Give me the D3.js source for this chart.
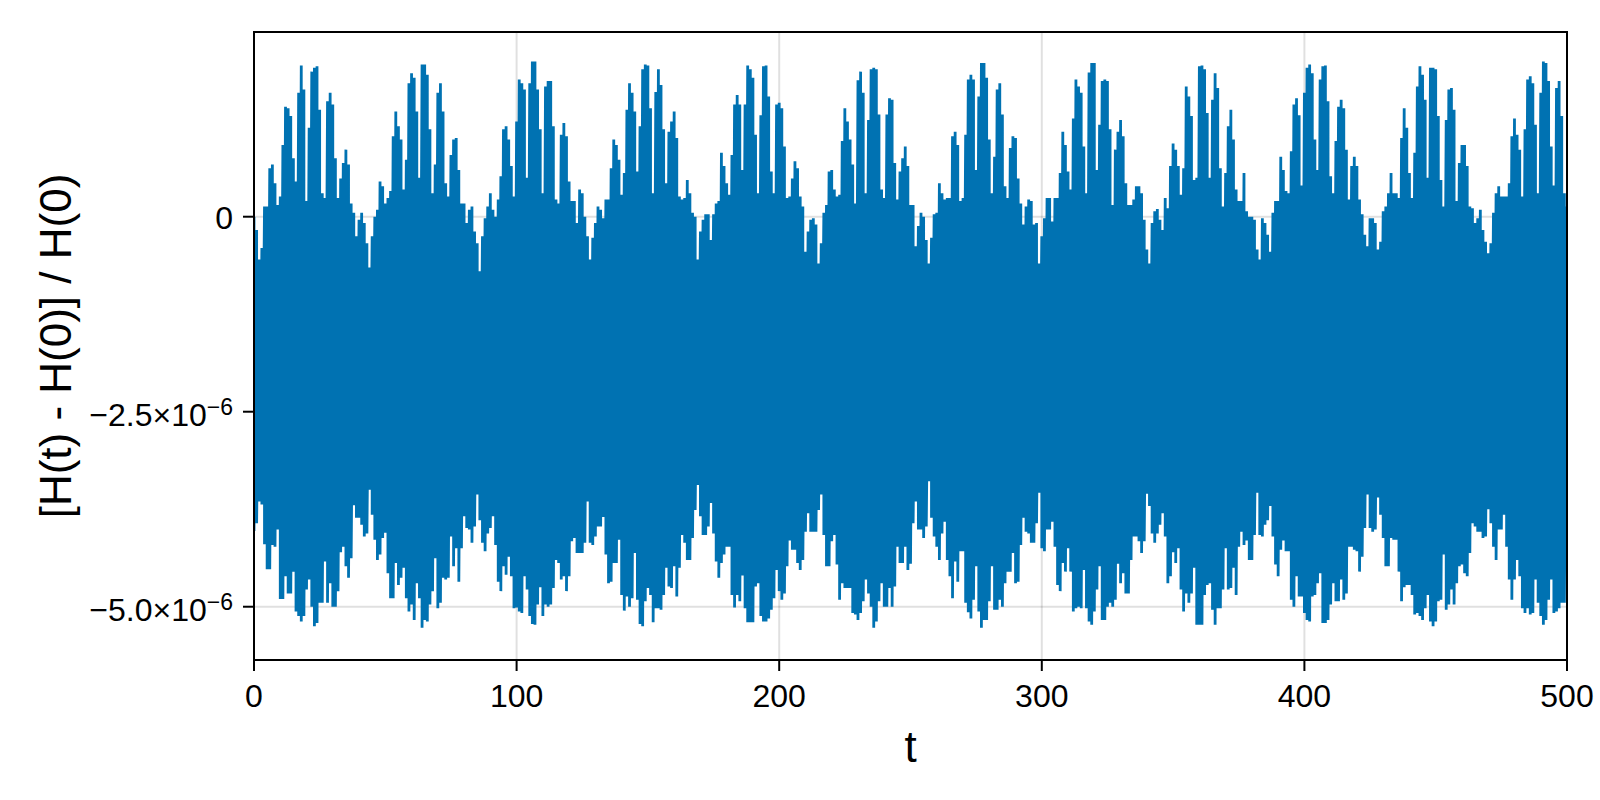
<!DOCTYPE html>
<html>
<head>
<meta charset="utf-8">
<script src="https://cdn.jsdelivr.net/npm/d3@7"></script>
<style>
  html, body { margin: 0; padding: 0; background: #ffffff; }
  svg { display: block; }
  text { font-family: "Liberation Sans", Arial, Helvetica, sans-serif; fill: #000; }
</style>
</head>
<body>
<svg id="chart" width="1600" height="800"></svg>
<script>
// ---------------- DATA (values in units of 1e-6) ----------------
// Sample times t = 0..500, one sample per time unit
const tStart = 0, tEnd = 500, tStep = 1;

// upper envelope of the fast oscillation in each sample interval
const errUpperE6 = [
  0.00,-0.17,-0.55,-0.40,0.13,0.13,0.62,0.67,0.43,0.15,
  0.26,0.92,1.41,1.39,1.29,0.75,0.45,1.59,1.94,1.63,
  0.20,1.14,1.86,1.91,1.93,1.37,0.30,0.24,1.48,1.59,
  1.44,0.75,0.24,0.49,0.69,0.86,0.67,0.17,0.05,-0.25,
  -0.04,0.05,-0.08,-0.34,-0.65,-0.25,0.00,0.09,0.45,0.39,
  0.17,0.24,0.33,1.03,1.35,1.16,0.99,0.35,0.73,1.71,
  1.84,1.78,1.35,0.50,1.95,1.95,1.82,1.12,0.30,0.67,
  1.59,1.71,1.35,0.43,0.26,0.79,0.99,1.01,0.60,0.17,
  0.17,-0.08,0.09,0.13,-0.19,-0.34,-0.70,-0.25,-0.02,0.13,
  0.30,0.09,0.00,0.22,0.52,1.12,1.16,0.99,0.65,0.26,
  1.22,1.76,1.71,1.63,0.50,1.71,1.99,1.99,1.63,1.12,
  0.30,1.67,1.74,1.74,1.16,0.22,0.17,1.05,1.20,1.03,
  0.45,0.20,0.20,-0.08,0.35,0.30,0.00,-0.25,-0.55,-0.27,
  -0.08,0.13,0.09,-0.02,0.22,0.22,0.62,0.99,0.92,0.73,
  0.28,0.56,1.37,1.71,1.59,1.35,0.58,1.16,1.89,1.95,
  1.94,1.39,0.30,1.60,1.89,1.69,1.12,0.43,1.09,1.22,
  1.35,1.01,0.26,0.22,0.24,0.47,0.30,0.05,0.00,-0.55,
  -0.19,-0.04,0.03,0.03,-0.30,0.03,0.17,0.20,0.82,0.65,
  0.43,0.28,0.79,1.44,1.56,1.44,0.60,1.44,1.94,1.89,
  1.78,1.05,0.30,1.30,1.93,1.94,1.54,0.58,0.30,1.44,
  1.46,1.39,0.90,0.24,0.26,0.49,0.71,0.62,0.26,0.13,
  -0.45,-0.19,-0.04,-0.02,-0.10,-0.60,-0.34,0.05,0.15,0.58,
  0.60,0.35,0.26,0.28,0.97,1.39,1.22,0.99,0.67,0.17,
  1.75,1.86,1.59,0.30,1.24,1.89,1.91,1.89,1.31,0.35,
  0.24,1.31,1.52,1.50,0.69,0.22,0.58,0.75,0.90,0.65,
  0.15,0.15,-0.38,-0.12,0.05,0.00,-0.30,-0.60,-0.27,0.03,
  0.05,0.43,0.30,0.22,0.24,0.24,1.03,1.09,0.92,0.20,
  0.24,1.05,1.76,1.82,1.76,0.60,1.54,1.97,1.97,1.78,
  0.99,0.30,0.77,1.63,1.71,1.31,0.39,0.24,0.88,1.03,
  1.01,0.49,0.17,-0.10,0.13,0.22,0.20,-0.10,-0.08,-0.60,
  -0.25,-0.02,0.24,0.24,-0.06,0.24,0.24,0.56,1.09,0.92,
  0.58,0.35,1.26,1.76,1.67,1.59,0.90,0.30,1.85,1.97,
  1.97,0.60,1.18,1.74,1.76,1.74,1.12,0.15,0.86,1.09,
  1.24,1.03,0.43,0.15,0.15,0.22,0.39,0.39,0.30,-0.04,
  -0.42,-0.60,-0.08,0.07,0.10,-0.04,-0.17,0.24,0.11,0.65,
  0.94,0.86,0.65,0.28,0.62,1.67,1.54,1.29,0.47,0.50,
  1.93,1.94,1.89,1.33,0.50,1.50,1.84,1.65,0.62,0.13,
  0.56,1.16,1.37,0.99,0.35,0.20,0.20,0.56,0.07,0.00,
  0.00,-0.04,-0.42,-0.55,-0.02,-0.08,-0.23,-0.45,0.05,0.20,
  0.20,0.77,0.60,0.33,0.30,0.84,1.44,1.52,1.30,0.40,
  1.59,1.91,1.95,1.84,0.99,0.60,1.76,1.93,1.94,1.48,
  0.52,0.30,0.97,1.41,1.50,1.39,0.86,0.22,0.65,0.77,
  0.65,0.22,0.03,-0.23,-0.38,-0.02,-0.02,-0.08,-0.42,-0.32,
  0.07,0.13,0.30,0.56,0.30,0.30,0.24,1.01,1.39,1.14,
  0.56,0.24,0.82,1.67,1.93,1.82,1.50,0.50,1.91,1.91,
  1.89,1.29,0.47,0.13,1.24,1.63,1.65,1.37,0.20,0.69,
  0.92,0.92,0.65,0.13,0.11,-0.08,-0.02,0.09,-0.17,-0.32,
  -0.47,-0.34,0.05,0.30,0.39,0.26,0.26,0.26,0.43,1.03,
  1.26,1.05,0.86,0.26,1.12,1.76,1.80,1.71,1.18,0.30,
  1.59,1.99,1.97,1.74,0.90,0.40,1.65,1.74,1.29,0.30,
  0.13
];

// lower envelope of the fast oscillation in each sample interval
const errLowerE6 = [
  -4.03,-3.93,-3.65,-3.69,-4.20,-4.52,-4.52,-4.21,-4.23,-4.01,
  -4.90,-4.90,-4.61,-4.83,-4.83,-4.55,-5.06,-5.12,-5.19,-5.12,
  -4.78,-4.65,-5.00,-5.25,-5.21,-4.95,-4.95,-4.42,-4.95,-4.70,
  -5.00,-5.00,-4.80,-4.30,-4.23,-4.48,-4.63,-4.38,-3.70,-3.86,
  -3.86,-3.95,-4.10,-4.06,-3.50,-3.82,-4.14,-4.40,-4.33,-4.12,
  -4.05,-4.57,-4.89,-4.89,-4.44,-4.72,-4.63,-4.50,-4.89,-5.06,
  -4.97,-5.17,-4.70,-4.89,-5.27,-5.17,-5.19,-4.97,-4.80,-4.38,
  -5.02,-4.95,-4.63,-4.65,-4.63,-4.10,-4.48,-4.25,-4.68,-4.25,
  -3.84,-3.99,-4.01,-4.18,-3.97,-3.56,-3.89,-4.18,-4.29,-4.06,
  -3.99,-3.84,-4.21,-4.68,-4.80,-4.48,-4.59,-4.36,-4.61,-5.02,
  -5.01,-5.06,-5.08,-4.61,-4.78,-5.12,-5.22,-5.23,-4.97,-4.75,
  -5.12,-4.97,-5.00,-4.97,-4.76,-4.40,-4.44,-4.65,-4.61,-4.80,
  -4.61,-4.16,-4.12,-4.31,-4.31,-4.31,-4.18,-3.65,-4.18,-4.21,
  -4.10,-3.97,-3.97,-3.85,-4.33,-4.70,-4.68,-4.44,-4.44,-4.14,
  -4.85,-5.05,-4.87,-5.00,-4.89,-4.31,-4.91,-5.22,-5.25,-4.93,
  -4.76,-4.85,-5.20,-5.02,-5.02,-5.04,-4.85,-4.50,-4.74,-4.76,
  -4.48,-4.87,-4.50,-4.08,-4.18,-4.40,-4.40,-4.12,-3.76,-3.44,
  -3.84,-4.08,-4.08,-3.97,-3.67,-4.06,-4.42,-4.63,-4.44,-4.33,
  -4.23,-4.23,-4.85,-5.01,-4.85,-4.93,-4.60,-5.02,-5.20,-5.20,
  -5.20,-4.74,-4.70,-5.12,-5.19,-5.19,-5.15,-5.04,-4.89,-4.53,
  -4.80,-4.91,-4.83,-4.48,-4.15,-4.27,-4.27,-4.44,-4.53,-4.40,
  -4.04,-3.80,-4.04,-4.04,-4.04,-3.76,-3.56,-4.08,-4.48,-4.48,
  -4.16,-4.08,-4.46,-4.91,-4.70,-4.76,-4.76,-4.76,-5.08,-5.10,
  -5.17,-5.08,-4.93,-4.65,-4.83,-5.00,-5.27,-5.19,-4.93,-4.70,
  -5.00,-5.00,-4.76,-5.00,-4.74,-4.23,-4.44,-4.44,-4.23,-4.53,
  -4.45,-3.93,-3.65,-4.01,-4.01,-4.12,-3.97,-3.39,-3.86,-4.10,
  -4.23,-4.40,-4.06,-3.91,-4.40,-4.61,-4.89,-4.42,-4.68,-4.29,
  -4.29,-4.95,-5.07,-5.15,-4.91,-4.48,-5.06,-5.27,-5.17,-5.17,
  -4.93,-4.48,-5.04,-5.04,-4.91,-5.00,-4.70,-4.55,-4.55,-4.31,
  -4.70,-4.68,-4.21,-3.86,-4.04,-4.06,-4.18,-4.18,-3.93,-3.54,
  -4.25,-4.29,-4.01,-4.01,-3.91,-4.23,-4.72,-4.80,-4.44,-4.55,
  -4.25,-4.55,-5.06,-5.02,-5.00,-5.02,-4.53,-5.02,-5.19,-5.23,
  -5.06,-4.78,-4.48,-5.17,-5.17,-5.00,-4.95,-5.00,-4.91,-4.45,
  -4.70,-4.57,-4.83,-4.83,-4.40,-4.10,-4.10,-4.16,-4.31,-4.16,
  -3.55,-3.71,-4.06,-4.18,-4.06,-3.95,-3.80,-4.10,-4.70,-4.61,
  -4.30,-4.44,-4.25,-4.78,-5.06,-4.83,-4.95,-4.83,-4.50,-5.23,
  -5.23,-5.23,-4.85,-4.72,-4.70,-5.04,-5.23,-5.02,-5.02,-4.78,
  -4.25,-4.78,-4.76,-4.50,-4.85,-4.23,-4.04,-4.21,-4.15,-4.40,
  -4.40,-4.08,-3.54,-4.08,-4.10,-3.95,-3.89,-3.71,-4.10,-4.46,
  -4.61,-4.27,-4.15,-4.29,-4.29,-4.91,-5.00,-4.61,-4.87,-4.87,
  -5.08,-5.17,-5.19,-4.87,-4.85,-4.70,-4.57,-5.21,-5.21,-5.17,
  -4.97,-4.70,-4.93,-4.93,-4.65,-4.91,-4.83,-4.23,-4.23,-4.27,
  -4.29,-4.55,-4.36,-3.99,-3.56,-3.99,-4.04,-4.01,-3.60,-3.82,
  -4.12,-4.48,-4.48,-4.12,-4.14,-4.14,-4.55,-4.93,-4.75,-4.72,
  -4.72,-4.85,-5.10,-5.08,-5.12,-5.17,-5.02,-4.85,-5.19,-5.25,
  -5.19,-4.93,-4.91,-4.33,-5.04,-4.97,-4.78,-4.97,-4.70,-4.48,
  -4.46,-4.57,-4.61,-4.31,-3.93,-3.97,-4.04,-4.04,-4.12,-4.10,
  -3.75,-3.93,-4.23,-4.40,-4.01,-4.01,-3.82,-4.23,-4.65,-4.91,
  -4.65,-4.40,-4.61,-5.02,-5.08,-5.02,-5.10,-5.08,-4.65,-4.95,
  -5.12,-5.23,-5.17,-4.91,-4.65,-5.08,-5.06,-5.02,-4.95,-4.95,
  -4.50
];

// axis ticks
const xTicks = [0, 100, 200, 300, 400, 500];
const xTickLabels = ["0", "100", "200", "300", "400", "500"];
const yTicks = [0, -2.5, -5.0];                 // in units of 1e-6
const yTickMantissa = ["0", "\u22122.5\u00D710", "\u22125.0\u00D710"];
const yTickExponent = ["", "\u22126", "\u22126"];

const xLabel = "t";
const yLabel = "[H(t) - H(0)] / H(0)";

// axis limits (units of 1e-6 for y)
const xLimits = [0, 500];
const yLimits = [-5.683, 2.368];

// ---------------- DRAWING ----------------
const W = 1600, H = 800;
const margin = { left: 254, top: 32, right: 33, bottom: 140 };
const pw = W - margin.left - margin.right;
const ph = H - margin.top - margin.bottom;

const svg = d3.select("#chart");
const g = svg.append("g").attr("transform", `translate(${margin.left},${margin.top})`);

const x = d3.scaleLinear().domain(xLimits).range([0, pw]);
const y = d3.scaleLinear().domain(yLimits).range([ph, 0]);

// grid
g.append("g").selectAll("line.vg").data(xTicks).join("line")
  .attr("x1", d => x(d)).attr("x2", d => x(d))
  .attr("y1", 0).attr("y2", ph)
  .attr("stroke", "rgba(0,0,0,0.12)").attr("stroke-width", 2);
g.append("g").selectAll("line.hg").data(yTicks).join("line")
  .attr("x1", 0).attr("x2", pw)
  .attr("y1", d => y(d)).attr("y2", d => y(d))
  .attr("stroke", "rgba(0,0,0,0.12)").attr("stroke-width", 2);

// clip
svg.append("defs").append("clipPath").attr("id", "clip")
  .append("rect").attr("x", 0).attr("y", 0).attr("width", pw).attr("height", ph);

// series: at each sample the line swings from the upper to the lower value
const times = d3.range(tStart, tEnd + tStep / 2, tStep);
const pts = [];
times.forEach((t, i) => {
  pts.push([t, errUpperE6[i]]);
  pts.push([t, errLowerE6[i]]);
});
const line = d3.line().x(d => x(d[0])).y(d => y(d[1]));
g.append("path")
  .attr("clip-path", "url(#clip)")
  .attr("d", line(pts))
  .attr("fill", "none")
  .attr("stroke", "#0072b2")
  .attr("stroke-width", 2.8)
  .attr("stroke-linejoin", "bevel");

// frame
g.append("rect").attr("x", 0).attr("y", 0).attr("width", pw).attr("height", ph)
  .attr("fill", "none").attr("stroke", "#000").attr("stroke-width", 2);

// x ticks
const xt = g.append("g").attr("transform", `translate(0,${ph})`);
xt.selectAll("line").data(xTicks).join("line")
  .attr("x1", d => x(d)).attr("x2", d => x(d))
  .attr("y1", 0).attr("y2", 11)
  .attr("stroke", "#000").attr("stroke-width", 2);
xt.selectAll("text").data(xTicks).join("text")
  .attr("x", d => x(d)).attr("y", 47)
  .attr("text-anchor", "middle")
  .attr("font-size", 32)
  .text((d, i) => xTickLabels[i]);

// y ticks
const yt = g.append("g");
yt.selectAll("line").data(yTicks).join("line")
  .attr("x1", -11).attr("x2", 0)
  .attr("y1", d => y(d)).attr("y2", d => y(d))
  .attr("stroke", "#000").attr("stroke-width", 2);
yTicks.forEach((v, i) => {
  const hasExp = yTickExponent[i] !== "";
  const tx = yt.append("text")
    .attr("x", -21)
    .attr("y", y(v) + (hasExp ? 14 : 12))
    .attr("text-anchor", "end")
    .attr("font-size", 32);
  tx.append("tspan").text(yTickMantissa[i]);
  if (hasExp) {
    tx.append("tspan").attr("dy", -11).attr("font-size", 23).text(yTickExponent[i]);
  }
});

// axis labels
svg.append("text")
  .attr("x", margin.left + pw / 2).attr("y", 762)
  .attr("text-anchor", "middle").attr("font-size", 44)
  .text(xLabel);
svg.append("text")
  .attr("transform", `translate(71,${margin.top + ph / 2}) rotate(-90)`)
  .attr("text-anchor", "middle").attr("font-size", 44)
  .text(yLabel);
</script>
</body>
</html>
